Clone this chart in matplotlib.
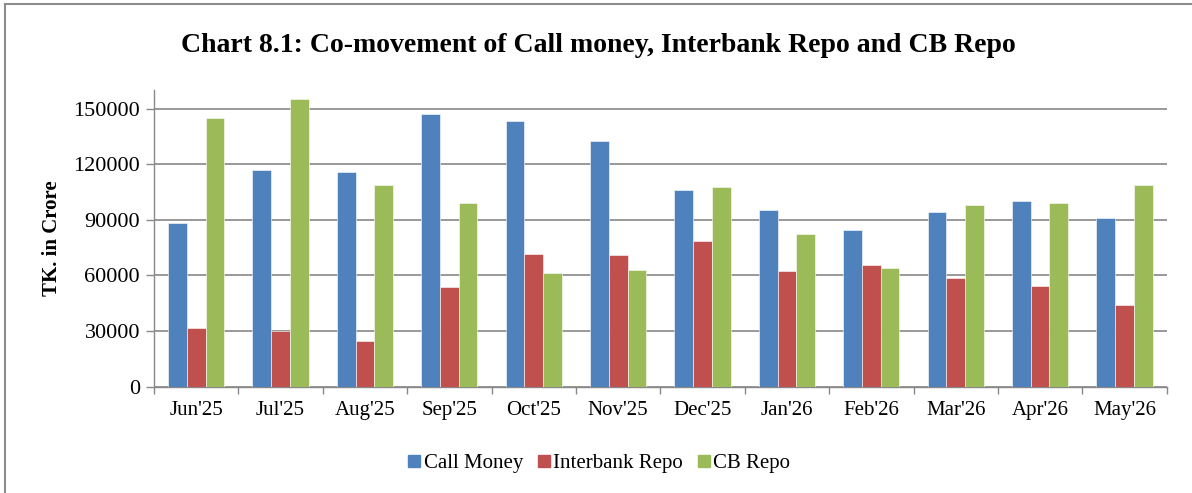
import matplotlib
matplotlib.use("Agg")
import matplotlib.pyplot as plt
import numpy as np
from matplotlib.lines import Line2D

months = ["Jun'25", "Jul'25", "Aug'25", "Sep'25", "Oct'25", "Nov'25",
          "Dec'25", "Jan'26", "Feb'26", "Mar'26", "Apr'26", "May'26"]
call_money = [88500, 116700, 116000, 146900, 143200, 132400,
              105900, 95100, 84700, 94100, 100000, 90800]
interbank_repo = [31500, 30000, 24800, 53800, 71400, 71000,
                  78600, 62200, 65500, 58500, 54300, 43900]
cb_repo = [145100, 155200, 109000, 99300, 61200, 63100,
           107600, 82400, 63800, 98200, 99100, 108600]
yticks = [0, 30000, 60000, 90000, 120000, 150000]

plt.rcParams['font.family'] = ['Liberation Serif', 'DejaVu Serif']

W, H = 1192, 493
fig = plt.figure(figsize=(W / 100, H / 100), dpi=100)
ax = fig.add_axes([154 / W, 1 - 386.7 / H, (1166.7 - 154) / W, (386.7 - 90) / H])

x = np.arange(len(months))
bw = 0.222
colors = ["#4F81BD", "#C0504D", "#9BBB59"]
names = ["Call Money", "Interbank Repo", "CB Repo"]
for i, (vals, c) in enumerate(zip([call_money, interbank_repo, cb_repo], colors)):
    ax.bar(x + (i - 1) * bw, vals, width=bw, color=c, edgecolor="white",
           linewidth=0.4, zorder=3)

ax.set_xlim(-0.5, len(months) - 0.5)
ax.set_ylim(0, 160000)
ax.set_yticks(yticks)
ax.set_yticklabels([str(v) for v in yticks], fontsize=16)
ax.set_xticks(x)
ax.set_xticklabels(months, fontsize=15)
ax.set_xticks(np.arange(-0.5, len(months) + 0.5, 1), minor=True)
ax.tick_params(axis='x', which='major', length=0, pad=10)
ax.tick_params(axis='x', which='minor', length=5, width=1, color="#888888", direction='out')
ax.tick_params(axis='y', length=6, width=1, color="#888888", pad=4)

ax.grid(axis='y', color="#878787", linewidth=1.2, zorder=0)
for s in ["top", "right"]:
    ax.spines[s].set_visible(False)
for s in ["left", "bottom"]:
    ax.spines[s].set_color("#888888")
    ax.spines[s].set_linewidth(1.0)

fig.text(52 / W, 1 - 238 / H, "TK. in Crore", rotation=90, fontsize=15,
         fontweight='bold', ha='center', va='center')
fig.text(598 / W, 1 - 45 / H,
         "Chart 8.1: Co-movement of Call money, Interbank Repo and CB Repo",
         fontsize=20, fontweight='bold', ha='center', va='center')

handles = [Line2D([0], [0], marker='s', linestyle='none', markersize=8,
                  markerfacecolor=c, markeredgecolor=c) for c in colors]
fig.legend(handles, names, loc='center', bbox_to_anchor=(598 / W, 1 - 463 / H),
           ncol=3, frameon=False, fontsize=15, handletextpad=0.05,
           columnspacing=0.6, handlelength=0.8)

# outer border
fig.add_artist(Line2D([5 / W, 1.0], [1 - 4 / H, 1 - 4 / H], transform=fig.transFigure,
                      color="#8C8C8C", linewidth=1.5))
fig.add_artist(Line2D([5 / W, 5 / W], [0, 1 - 4 / H], transform=fig.transFigure,
                      color="#8C8C8C", linewidth=1.5))

fig.savefig("out.png", dpi=100)
